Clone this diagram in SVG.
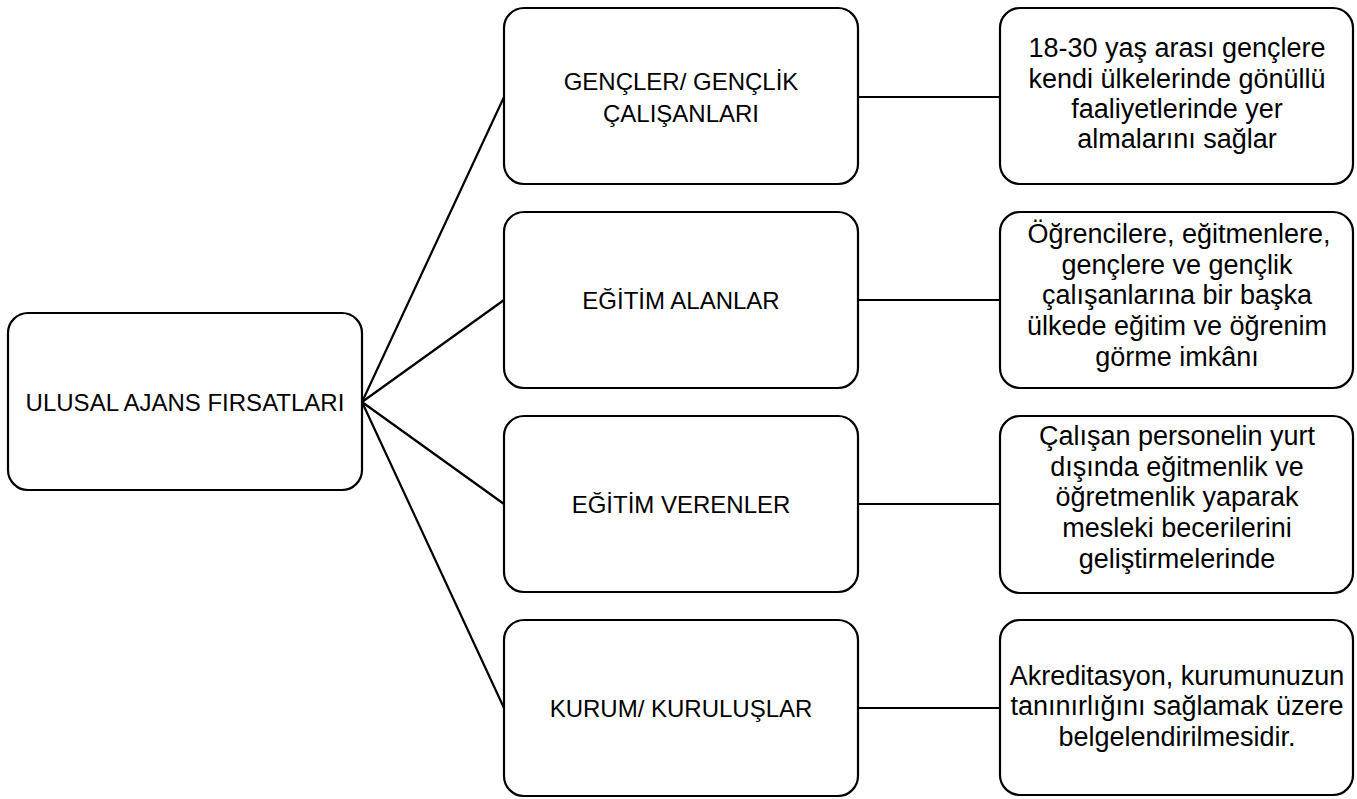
<svg xmlns="http://www.w3.org/2000/svg" width="1357" height="799" viewBox="0 0 1357 799">
<style>
.box{fill:#fff;stroke:#000;stroke-width:2.2}
.con{stroke:#000;stroke-width:2.2;fill:none}
.cap{font-family:"Liberation Sans",Arial,sans-serif;font-size:24px;fill:#000;text-anchor:middle}
.low{font-family:"Liberation Sans",Arial,sans-serif;font-size:27px;fill:#000;text-anchor:middle}
</style>
<rect width="1357" height="799" fill="#fff"/>
<g id="connectors">
<line class="con" x1="362" y1="402" x2="504" y2="97"/>
<line class="con" x1="362" y1="402" x2="504" y2="300"/>
<line class="con" x1="362" y1="402" x2="504" y2="504"/>
<line class="con" x1="362" y1="402" x2="504" y2="708"/>
<line class="con" x1="858" y1="97" x2="1000" y2="97"/>
<line class="con" x1="858" y1="300" x2="1000" y2="300"/>
<line class="con" x1="858" y1="504" x2="1000" y2="504"/>
<line class="con" x1="858" y1="708" x2="1000" y2="708"/>
</g>
<g id="root">
<rect class="box" x="8" y="313" width="354" height="177" rx="20"/>
<text class="cap" x="185" y="411">ULUSAL AJANS FIRSATLARI</text>
</g>
<g id="m1">
<rect class="box" x="504" y="8" width="354" height="176" rx="20"/>
<text class="cap" x="681" y="90">GENÇLER/ GENÇLİK</text>
<text class="cap" x="681" y="122">ÇALIŞANLARI</text>
</g>
<g id="m2">
<rect class="box" x="504" y="212" width="354" height="176" rx="20"/>
<text class="cap" x="681" y="309">EĞİTİM ALANLAR</text>
</g>
<g id="m3">
<rect class="box" x="504" y="416" width="354" height="176" rx="20"/>
<text class="cap" x="681" y="513">EĞİTİM VERENLER</text>
</g>
<g id="m4">
<rect class="box" x="504" y="620" width="354" height="176" rx="20"/>
<text class="cap" x="681" y="717">KURUM/ KURULUŞLAR</text>
</g>
<g id="r1">
<rect class="box" x="1000" y="8" width="353" height="176" rx="20"/>
<text class="low" x="1177" y="57">18-30 yaş arası gençlere</text>
<text class="low" x="1177" y="88">kendi ülkelerinde gönüllü</text>
<text class="low" x="1177" y="118">faaliyetlerinde yer</text>
<text class="low" x="1177" y="148">almalarını sağlar</text>
</g>
<g id="r2">
<rect class="box" x="1000" y="212" width="353" height="176" rx="20"/>
<text class="low" x="1179" y="243">Öğrencilere, eğitmenlere,</text>
<text class="low" x="1177" y="274">gençlere ve gençlik</text>
<text class="low" x="1177" y="304">çalışanlarına bir başka</text>
<text class="low" x="1177" y="335">ülkede eğitim ve öğrenim</text>
<text class="low" x="1177" y="366">görme imkânı</text>
</g>
<g id="r3">
<rect class="box" x="1000" y="416" width="353" height="177" rx="20"/>
<text class="low" x="1177" y="445">Çalışan personelin yurt</text>
<text class="low" x="1177" y="476">dışında eğitmenlik ve</text>
<text class="low" x="1177" y="506">öğretmenlik yaparak</text>
<text class="low" x="1177" y="537">mesleki becerilerini</text>
<text class="low" x="1177" y="568">geliştirmelerinde</text>
</g>
<g id="r4">
<rect class="box" x="1000" y="620" width="353" height="175" rx="20"/>
<text class="low" x="1177" y="685">Akreditasyon, kurumunuzun</text>
<text class="low" x="1177" y="715">tanınırlığını sağlamak üzere</text>
<text class="low" x="1177" y="746">belgelendirilmesidir.</text>
</g>
</svg>
